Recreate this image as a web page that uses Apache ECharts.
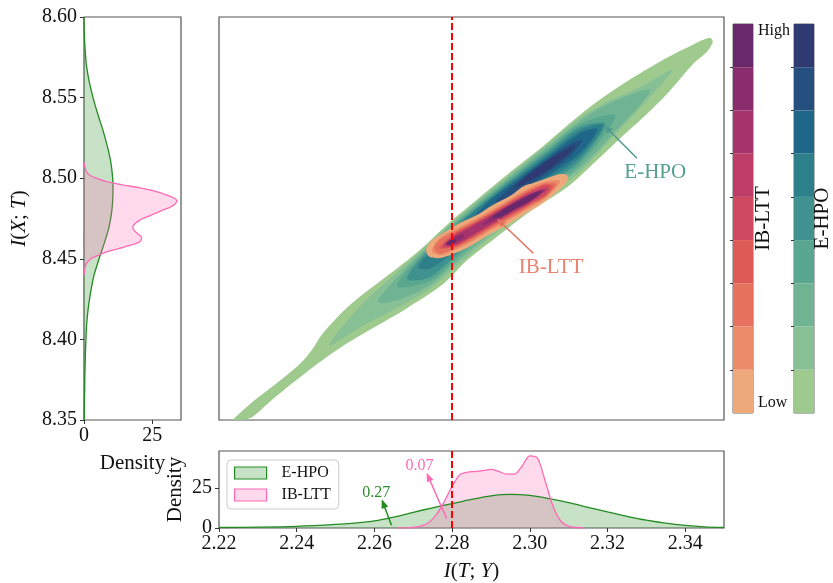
<!DOCTYPE html>
<html>
<head>
<meta charset="utf-8">
<script src="https://cdn.jsdelivr.net/npm/echarts@6/dist/echarts.min.js"></script>
<style>
  html, body { margin: 0; padding: 0; background: #fff; }
  #chart { width: 833px; height: 583px; }
</style>
</head>
<body>
<div id="chart"></div>
<script>
const FONT = "'Liberation Serif', 'DejaVu Serif', serif";

// ---- axes ----
const xMin = 2.22, xMax = 2.35;                 // I(T;Y)
const yMin = 8.35, yMax = 8.60;                 // I(X;T)
const xTicks = [2.22, 2.24, 2.26, 2.28, 2.30, 2.32, 2.34];
const yTicks = [8.35, 8.40, 8.45, 8.50, 8.55, 8.60];
const leftDensityMax = 35.5;
const leftDensityTicks = [0, 25];
const bottomDensityMax = 48;
const bottomDensityTicks = [0, 25];
const threshold = 2.28;

// ---- marginal densities of I(T;Y) ----
const ehpoX = [2.22, 2.23, 2.24, 2.25, 2.255, 2.26, 2.265, 2.27, 2.275, 2.28, 2.285, 2.29, 2.295, 2.30,
               2.305, 2.31, 2.315, 2.32, 2.325, 2.33, 2.335, 2.34, 2.345, 2.35];
const ehpoXDensity = [0.3, 0.5, 1.0, 2.2, 3.1, 4.4, 6.8, 9.8, 12.6, 15.2, 17.8, 20.0, 20.9, 20.3,
                      18.3, 15.8, 12.9, 10.0, 7.3, 4.9, 3.0, 1.6, 0.7, 0.3];
const ibX = [2.266, 2.268, 2.270, 2.272, 2.274, 2.276, 2.278, 2.280, 2.282, 2.284, 2.286, 2.288, 2.290,
             2.292, 2.294, 2.296, 2.298, 2.300, 2.302, 2.304, 2.306, 2.308, 2.310, 2.312, 2.314];
const ibXDensity = [0, 0.1, 0.3, 1.2, 3.4, 8.5, 16.5, 26.0, 33.2, 34.8, 35.2, 35.8, 36.5,
                    35.3, 33.6, 33.6, 38.5, 45.0, 43.5, 29.0, 13.5, 4.2, 1.2, 0.3, 0];

// ---- marginal densities of I(X;T) ----
const ehpoY = [8.35, 8.36, 8.37, 8.38, 8.39, 8.40, 8.41, 8.42, 8.43, 8.44, 8.45, 8.46, 8.47, 8.48,
               8.49, 8.50, 8.51, 8.52, 8.53, 8.54, 8.55, 8.56, 8.57, 8.58, 8.59, 8.60];
const ehpoYDensity = [0.1, 0.15, 0.25, 0.35, 0.5, 0.7, 1.0, 1.6, 2.5, 3.7, 5.5, 7.5, 9.2, 10.2,
                      10.6, 10.5, 9.8, 8.5, 6.9, 5.0, 3.3, 1.9, 0.9, 0.4, 0.1, 0];
const ibY = [8.440, 8.444, 8.447, 8.450, 8.452, 8.454, 8.456, 8.458, 8.460, 8.462, 8.464, 8.466, 8.468,
             8.470, 8.472, 8.474, 8.476, 8.478, 8.480, 8.482, 8.484, 8.486, 8.488, 8.490, 8.492, 8.494,
             8.496, 8.498, 8.500, 8.502, 8.504, 8.507, 8.510];
const ibYDensity = [0, 0.3, 0.9, 2.5, 5.0, 7.8, 12.0, 16.0, 19.8, 21.0, 20.8, 19.3, 18.2,
                    17.9, 18.8, 20.4, 23.0, 25.8, 28.6, 31.5, 33.3, 34.0, 32.6, 29.5, 26.0, 20.5,
                    13.5, 8.0, 4.5, 2.0, 0.9, 0.3, 0];

// ---- joint density contour levels, [I(T;Y), I(X;T)] outlines, low -> high ----
const ehpoL1 = [[2.2235,8.3500],[2.2286,8.3612],[2.2346,8.3723],[2.2408,8.3847],[2.2439,8.3934],[2.2464,8.4027],
  [2.2498,8.4120],[2.2537,8.4213],[2.2588,8.4312],[2.2653,8.4430],[2.2717,8.4554],[2.2795,8.4728],[2.2872,8.4883],
  [2.2950,8.5038],[2.3019,8.5168],[2.3079,8.5292],[2.3164,8.5459],[2.3251,8.5602],[2.3337,8.5726],[2.3422,8.5831],
  [2.3450,8.5862],[2.3466,8.5868],[2.3471,8.5844],[2.3455,8.5782],[2.3422,8.5713],[2.3355,8.5527],[2.3293,8.5379],
  [2.3233,8.5248],[2.3182,8.5131],[2.3097,8.4945],[2.3009,8.4808],[2.2924,8.4653],[2.2839,8.4492],[2.2777,8.4343],
  [2.2684,8.4194],[2.2596,8.4070],[2.2511,8.3946],[2.2426,8.3798],[2.2348,8.3649],[2.2286,8.3519],[2.2266,8.3500],
  [2.2250,8.3450],[2.2217,8.3450]];
const ehpoL2 = [[2.2485,8.3965],[2.2562,8.4202],[2.2666,8.4433],[2.2743,8.4601],[2.2820,8.4767],[2.2898,8.4923],
  [2.2975,8.5073],[2.3052,8.5223],[2.3130,8.5376],[2.3207,8.5483],[2.3285,8.5566],[2.3367,8.5671],[2.3285,8.5438],
  [2.3207,8.5239],[2.3130,8.5042],[2.3052,8.4901],[2.2975,8.4772],[2.2898,8.4630],[2.2820,8.4473],[2.2743,8.4314],
  [2.2666,8.4205],[2.2562,8.4073]];
const ehpoL3 = [[2.2609,8.4232],[2.2666,8.4404],[2.2743,8.4589],[2.2820,8.4754],[2.2898,8.4911],[2.2975,8.5060],
  [2.3052,8.5207],[2.3130,8.5357],[2.3207,8.5467],[2.3310,8.5547],[2.3207,8.5255],[2.3130,8.5065],[2.3052,8.4926],
  [2.2975,8.4796],[2.2898,8.4654],[2.2820,8.4498],[2.2743,8.4337],[2.2666,8.4249]];
const ehpoL4 = [[2.2658,8.4331],[2.2743,8.4576],[2.2820,8.4742],[2.2898,8.4899],[2.2975,8.5046],[2.3052,8.5190],
  [2.3130,8.5338],[2.3220,8.5386],[2.3130,8.5087],[2.3052,8.4950],[2.2975,8.4820],[2.2898,8.4679],[2.2820,8.4522],
  [2.2743,8.4362]];
const ehpoL5 = [[2.2684,8.4375],[2.2743,8.4565],[2.2820,8.4730],[2.2898,8.4887],[2.2975,8.5032],[2.3052,8.5175],
  [2.3130,8.5319],[2.3194,8.5336],[2.3130,8.5110],[2.3052,8.4973],[2.2975,8.4844],[2.2898,8.4703],[2.2820,8.4545],
  [2.2743,8.4385]];
const ehpoL6 = [[2.2712,8.4449],[2.2743,8.4538],[2.2820,8.4717],[2.2898,8.4875],[2.2975,8.5019],[2.3052,8.5158],
  [2.3130,8.5300],[2.3189,8.5330],[2.3130,8.5133],[2.3052,8.4998],[2.2975,8.4868],[2.2898,8.4729],[2.2820,8.4570],
  [2.2743,8.4438]];
const ehpoL7 = [[2.2846,8.4722],[2.2898,8.4864],[2.2975,8.5005],[2.3052,8.5143],[2.3130,8.5281],[2.3174,8.5305],
  [2.3130,8.5156],[2.3052,8.5022],[2.2975,8.4892],[2.2898,8.4753]];
const ehpoL8 = [[2.2911,8.4852],[2.2975,8.4991],[2.3052,8.5127],[2.3104,8.5212],[2.3135,8.5237],[2.3104,8.5138],
  [2.3052,8.5046],[2.2975,8.4916]];
const ehpoL9 = [[2.2962,8.4945],[2.3040,8.5101],[2.3117,8.5200],[2.3040,8.5038]];

const ibL1 = [[2.2733,8.4548],[2.2743,8.4604],[2.2777,8.4660],[2.2820,8.4722],[2.2864,8.4772],[2.2905,8.4834],
  [2.2949,8.4889],[2.2970,8.4927],[2.2985,8.4952],[2.3009,8.4970],[2.3045,8.5001],[2.3078,8.5026],[2.3096,8.5020],
  [2.3099,8.4995],[2.3086,8.4952],[2.3060,8.4896],[2.3027,8.4834],[2.2983,8.4772],[2.2942,8.4710],[2.2890,8.4642],
  [2.2838,8.4567],[2.2802,8.4530],[2.2769,8.4505],[2.2743,8.4511]];
const ibL2 = [[2.2748,8.4548],[2.2769,8.4629],[2.2807,8.4681],[2.2846,8.4730],[2.2885,8.4780],[2.2924,8.4833],
  [2.2962,8.4890],[2.3001,8.4942],[2.3040,8.4979],[2.3078,8.4983],[2.3040,8.4874],[2.3001,8.4817],[2.2962,8.4763],
  [2.2924,8.4709],[2.2885,8.4656],[2.2846,8.4600],[2.2807,8.4555],[2.2769,8.4522]];
const ibL3 = [[2.2753,8.4567],[2.2769,8.4619],[2.2807,8.4669],[2.2846,8.4719],[2.2885,8.4770],[2.2924,8.4823],
  [2.2962,8.4880],[2.3001,8.4931],[2.3040,8.4969],[2.3068,8.4964],[2.3040,8.4883],[2.3001,8.4828],[2.2962,8.4774],
  [2.2924,8.4721],[2.2885,8.4668],[2.2846,8.4612],[2.2807,8.4566],[2.2769,8.4531]];
const ibL4 = [[2.2766,8.4567],[2.2807,8.4660],[2.2846,8.4710],[2.2885,8.4762],[2.2924,8.4816],[2.2962,8.4871],
  [2.3001,8.4922],[2.3040,8.4962],[2.3060,8.4952],[2.3040,8.4889],[2.3001,8.4836],[2.2962,8.4783],[2.2924,8.4730],
  [2.2885,8.4676],[2.2846,8.4621],[2.2807,8.4573]];
const ibL5 = [[2.2774,8.4573],[2.2807,8.4653],[2.2846,8.4704],[2.2885,8.4756],[2.2924,8.4810],[2.2962,8.4865],
  [2.3001,8.4915],[2.3040,8.4956],[2.3052,8.4945],[2.3040,8.4895],[2.3001,8.4842],[2.2962,8.4790],[2.2924,8.4737],
  [2.2885,8.4683],[2.2846,8.4628],[2.2807,8.4579]];
const ibL6 = [[2.2779,8.4579],[2.2807,8.4647],[2.2846,8.4698],[2.2885,8.4751],[2.2924,8.4805],[2.2962,8.4859],
  [2.3001,8.4909],[2.3047,8.4933],[2.3001,8.4848],[2.2962,8.4796],[2.2924,8.4744],[2.2885,8.4690],[2.2846,8.4634],
  [2.2807,8.4585]];
const ibL7 = [[2.2784,8.4586],[2.2807,8.4641],[2.2846,8.4693],[2.2885,8.4746],[2.2924,8.4800],[2.2962,8.4854],
  [2.3001,8.4904],[2.3042,8.4933],[2.3001,8.4852],[2.2962,8.4802],[2.2924,8.4749],[2.2885,8.4695],[2.2846,8.4639],
  [2.2807,8.4590]];
const ibL8a = [[2.2787,8.4589],[2.2800,8.4623],[2.2815,8.4641],[2.2831,8.4651],[2.2828,8.4626],[2.2813,8.4607],
  [2.2797,8.4583]];
const ibL8b = [[2.2877,8.4710],[2.2924,8.4796],[2.2962,8.4849],[2.3001,8.4899],[2.3037,8.4927],[2.3001,8.4857],
  [2.2962,8.4807],[2.2924,8.4755]];
const ibL9 = [[2.2903,8.4759],[2.2924,8.4794],[2.2962,8.4847],[2.3001,8.4896],[2.3032,8.4921],[2.3001,8.4860],
  [2.2962,8.4809],[2.2924,8.4758]];
const ibL9b = [[2.2784,8.4595],[2.2797,8.4617],[2.2810,8.4620],[2.2807,8.4601],[2.2795,8.4586]];

const ehpoPolys = [ehpoL1, ehpoL2, ehpoL3, ehpoL4, ehpoL5, ehpoL6, ehpoL7, ehpoL8, ehpoL9];
const ehpoPolyLevel = [0, 1, 2, 3, 4, 5, 6, 7, 8];
const ibPolys = [ibL1, ibL2, ibL3, ibL4, ibL5, ibL6, ibL7, ibL8a, ibL8b, ibL9, ibL9b];
const ibPolyLevel = [0, 1, 2, 3, 4, 5, 6, 7, 7, 8, 8];

// level colours, low -> high
const ehpoColors = ['#9fca8e', '#88c095', '#6fb393', '#5aa78f', '#409290', '#2d7f8a', '#1f6788', '#244f7e', '#2e3a71'];
const ibColors = ['#eea97b', '#eb8b6a', '#e6725d', '#de5a56', '#cf4a60', '#bd3d68', '#a6336c', '#8b2d6d', '#68286a'];
const colorbarLevels = [0, 1, 2, 3, 4, 5, 6, 7, 8];

const ehpoLine = '#228b22', ehpoFill = 'rgba(34,139,34,0.25)';
const ibLine = '#ff69b4', ibFill = 'rgba(255,105,180,0.25)';

// ---- renderers ----
function contourItem(polys, levelOf, colors) {
  return function (params, api) {
    const i = params.dataIndex;
    return {
      type: 'polygon',
      shape: { points: polys[i].map(p => api.coord(p)), smooth: 0.3 },
      style: { fill: colors[levelOf[i]] }
    };
  };
}

function sideDensityItem(ys, ds, stroke, fill) {
  return function (params, api) {
    const curve = ys.map((y, i) => api.coord([ds[i], y]));
    const b0 = api.coord([0, ys[0]]);
    const b1 = api.coord([0, ys[ys.length - 1]]);
    return {
      type: 'group',
      children: [
        { type: 'polygon', shape: { points: [b0].concat(curve, [b1]), smooth: 0.25 }, style: { fill: fill } },
        { type: 'polyline', shape: { points: curve, smooth: 0.25 }, style: { stroke: stroke, lineWidth: 1.3, fill: null } }
      ]
    };
  };
}

function colorbarItem(colors) {
  return function (params, api) {
    const i = params.dataIndex;
    const p0 = api.coord([0, i]);
    const p1 = api.coord([1, i + 1]);
    return {
      type: 'rect',
      shape: { x: p0[0], y: p1[1], width: p1[0] - p0[0], height: p0[1] - p1[1] },
      style: { fill: colors[i] }
    };
  };
}

const tickText = { fontFamily: FONT, fontSize: 20, color: '#111' };
const titleText = {
  fontFamily: FONT, fontSize: 21, color: '#111',
  rich: { i: { fontFamily: FONT, fontSize: 21, fontStyle: 'italic', color: '#111' } }
};
const frame = { show: true, borderColor: '#555', borderWidth: 1.2, backgroundColor: 'transparent', outerBoundsMode: 'none' };
const tick = { length: 4, lineStyle: { color: '#333', width: 1 } };

const arrowEnd = (coord) => ({ coord: coord, symbol: 'triangle', symbolSize: [7, 9] });

const option = {
  animation: false,
  backgroundColor: '#ffffff',
  textStyle: { fontFamily: FONT },
  grid: [
    Object.assign({ left: 219, top: 17, width: 505, height: 403 }, frame),
    Object.assign({ left: 84, top: 17, width: 97, height: 403 }, frame),
    Object.assign({ left: 219, top: 451, width: 505, height: 77 }, frame),
    { left: 733, top: 24, width: 20, height: 389, show: true, borderColor: '#444', borderWidth: 0.8, outerBoundsMode: 'none' },
    { left: 794, top: 24, width: 20, height: 389, show: true, borderColor: '#444', borderWidth: 0.8, outerBoundsMode: 'none' }
  ],
  xAxis: [
    { gridIndex: 0, type: 'value', min: xMin, max: xMax, show: false },
    {
      gridIndex: 1, type: 'value', min: 0, max: leftDensityMax,
      axisLine: { show: false }, splitLine: { show: false },
      axisTick: Object.assign({ customValues: leftDensityTicks }, tick),
      axisLabel: Object.assign({ customValues: leftDensityTicks, margin: 6 }, tickText),
      name: 'Density', nameLocation: 'middle', nameGap: 33, nameMoveOverlap: false, nameTextStyle: titleText
    },
    {
      gridIndex: 2, type: 'value', min: xMin, max: xMax,
      axisLine: { show: false }, splitLine: { show: false },
      axisTick: Object.assign({ customValues: xTicks }, tick),
      axisLabel: Object.assign({ customValues: xTicks, margin: 6, formatter: v => v.toFixed(2) }, tickText),
      name: '{i|I}({i|T}; {i|Y})', nameLocation: 'middle', nameGap: 33, nameMoveOverlap: false, nameTextStyle: titleText
    },
    { gridIndex: 3, type: 'value', min: 0, max: 1, show: false },
    { gridIndex: 4, type: 'value', min: 0, max: 1, show: false }
  ],
  yAxis: [
    { gridIndex: 0, type: 'value', min: yMin, max: yMax, show: false },
    {
      gridIndex: 1, type: 'value', min: yMin, max: yMax,
      axisLine: { show: false }, splitLine: { show: false },
      axisTick: Object.assign({ customValues: yTicks }, tick),
      axisLabel: Object.assign({ customValues: yTicks, margin: 7, formatter: v => v.toFixed(2) }, tickText),
      name: '{i|I}({i|X}; {i|T})', nameLocation: 'middle', nameRotate: 90, nameGap: 54,
      nameMoveOverlap: false, nameTextStyle: titleText
    },
    {
      gridIndex: 2, type: 'value', min: 0, max: bottomDensityMax,
      axisLine: { show: false }, splitLine: { show: false },
      axisTick: Object.assign({ customValues: bottomDensityTicks }, tick),
      axisLabel: Object.assign({ customValues: bottomDensityTicks, margin: 7 }, tickText),
      name: 'Density', nameLocation: 'middle', nameRotate: 90, nameGap: 33,
      nameMoveOverlap: false, nameTextStyle: titleText
    },
    {
      gridIndex: 3, type: 'value', min: 0, max: 9, position: 'right',
      axisLine: { show: false }, splitLine: { show: false },
      axisTick: { inside: true, length: 3, customValues: [1, 2, 3, 4, 5, 6, 7, 8], lineStyle: { color: '#333' } },
      axisLabel: { customValues: [0.23, 8.84], formatter: v => (v > 4 ? 'High' : 'Low'), margin: 5,
                   fontFamily: FONT, fontSize: 16, color: '#111' },
      name: 'IB-LTT', nameLocation: 'middle', nameRotate: 90, nameGap: 0, nameMoveOverlap: false,
      nameTextStyle: { fontFamily: FONT, fontSize: 21, color: '#111' }
    },
    {
      gridIndex: 4, type: 'value', min: 0, max: 9, position: 'right',
      axisLine: { show: false }, splitLine: { show: false },
      axisTick: { inside: true, length: 3, customValues: [1, 2, 3, 4, 5, 6, 7, 8], lineStyle: { color: '#333' } },
      axisLabel: { show: false },
      name: 'E-HPO', nameLocation: 'middle', nameRotate: 90, nameGap: -2, nameMoveOverlap: false,
      nameTextStyle: { fontFamily: FONT, fontSize: 21, color: '#111' }
    }
  ],
  legend: {
    left: 227, top: 460, orient: 'vertical', selectedMode: false,
    itemWidth: 32, itemHeight: 12, itemGap: 6,
    padding: [5, 8, 6, 7],
    backgroundColor: 'rgba(255,255,255,0.8)', borderColor: '#cccccc', borderWidth: 1, borderRadius: 4,
    textStyle: { fontFamily: FONT, fontSize: 16, color: '#111', padding: [0, 0, 0, 10] },
    data: [
      { name: 'E-HPO', icon: 'rect', itemStyle: { color: ehpoFill, borderColor: ehpoLine, borderWidth: 1.2 } },
      { name: 'IB-LTT', icon: 'rect', itemStyle: { color: ibFill, borderColor: ibLine, borderWidth: 1.2 } }
    ]
  },
  series: [
    {
      name: 'E-HPO joint', type: 'custom', xAxisIndex: 0, yAxisIndex: 0, clip: true, silent: true,
      data: ehpoPolys.map(() => [xMin, yMin]),
      renderItem: contourItem(ehpoPolys, ehpoPolyLevel, ehpoColors)
    },
    {
      name: 'IB-LTT joint', type: 'custom', xAxisIndex: 0, yAxisIndex: 0, clip: true, silent: true,
      data: ibPolys.map(() => [xMin, yMin]),
      renderItem: contourItem(ibPolys, ibPolyLevel, ibColors),
      markLine: {
        silent: true, symbol: ['none', 'none'], label: { show: false },
        data: [
          { xAxis: threshold, lineStyle: { color: '#ff0000', width: 2, type: [7, 3] } },
          [Object.assign({ lineStyle: { color: '#4e9a8d', width: 1.5, type: 'solid' } }, { coord: [2.3276, 8.5124] }),
           arrowEnd([2.3199, 8.5310])],
          [Object.assign({ lineStyle: { color: '#e4705e', width: 1.5, type: 'solid' } }, { coord: [2.3009, 8.4534] }),
           arrowEnd([2.2924, 8.4730])]
        ]
      },
      markPoint: {
        silent: true, symbol: 'rect', symbolSize: 1, itemStyle: { color: 'rgba(0,0,0,0)' },
        label: { show: true, position: 'inside', fontFamily: FONT, fontSize: 21 },
        data: [
          { coord: [2.3323, 8.5038], label: { formatter: 'E-HPO', color: '#55a18f' } },
          { coord: [2.3055, 8.4449], label: { formatter: 'IB-LTT', color: '#e8836f' } }
        ]
      }
    },
    {
      name: 'E-HPO I(X;T)', type: 'custom', xAxisIndex: 1, yAxisIndex: 1, silent: true,
      data: [[0, yMin]],
      renderItem: sideDensityItem(ehpoY, ehpoYDensity, ehpoLine, ehpoFill)
    },
    {
      name: 'IB-LTT I(X;T)', type: 'custom', xAxisIndex: 1, yAxisIndex: 1, silent: true,
      data: [[0, yMin]],
      renderItem: sideDensityItem(ibY, ibYDensity, ibLine, ibFill)
    },
    {
      name: 'E-HPO', type: 'line', xAxisIndex: 2, yAxisIndex: 2, silent: true,
      data: ehpoX.map((x, i) => [x, ehpoXDensity[i]]),
      smooth: 0.3, showSymbol: false, symbol: 'none',
      lineStyle: { color: ehpoLine, width: 1.3 }, itemStyle: { color: ehpoLine },
      areaStyle: { color: ehpoFill, opacity: 1 },
      markLine: {
        silent: true, symbol: ['none', 'none'], label: { show: false },
        data: [
          [Object.assign({ lineStyle: { color: ehpoLine, width: 1.5, type: 'solid' } }, { coord: [2.2644, 1.7] }),
           arrowEnd([2.2623, 15.3])]
        ]
      },
      markPoint: {
        silent: true, symbol: 'rect', symbolSize: 1, itemStyle: { color: 'rgba(0,0,0,0)' },
        label: { show: true, position: 'inside', fontFamily: FONT, fontSize: 16 },
        data: [{ coord: [2.2605, 22], label: { formatter: '0.27', color: '#2e8b2e' } }]
      }
    },
    {
      name: 'IB-LTT', type: 'line', xAxisIndex: 2, yAxisIndex: 2, silent: true,
      data: ibX.map((x, i) => [x, ibXDensity[i]]),
      smooth: 0.3, showSymbol: false, symbol: 'none',
      lineStyle: { color: ibLine, width: 1.3 }, itemStyle: { color: ibLine },
      areaStyle: { color: ibFill, opacity: 1 },
      markLine: {
        silent: true, symbol: ['none', 'none'], label: { show: false },
        data: [
          { xAxis: threshold, lineStyle: { color: '#ff0000', width: 2, type: [7, 3] } },
          [Object.assign({ lineStyle: { color: ibLine, width: 1.5, type: 'solid' } }, { coord: [2.2786, 5.9] }),
           arrowEnd([2.2739, 31.9])]
        ]
      },
      markPoint: {
        silent: true, symbol: 'rect', symbolSize: 1, itemStyle: { color: 'rgba(0,0,0,0)' },
        label: { show: true, position: 'inside', fontFamily: FONT, fontSize: 16 },
        data: [{ coord: [2.2716, 38.6], label: { formatter: '0.07', color: ibLine } }]
      }
    },
    {
      name: 'IB-LTT levels', type: 'custom', xAxisIndex: 3, yAxisIndex: 3, silent: true,
      data: colorbarLevels.map(i => [0, i]),
      renderItem: colorbarItem(ibColors)
    },
    {
      name: 'E-HPO levels', type: 'custom', xAxisIndex: 4, yAxisIndex: 4, silent: true,
      data: colorbarLevels.map(i => [0, i]),
      renderItem: colorbarItem(ehpoColors)
    }
  ]
};

const chart = echarts.init(document.getElementById('chart'), null, { renderer: 'canvas' });
chart.setOption(option);
</script>
</body>
</html>
